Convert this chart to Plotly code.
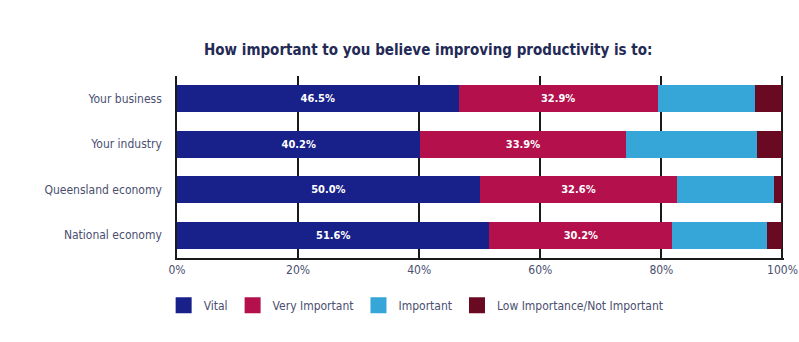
import plotly.graph_objects as go

categories = ["Your business", "Your industry", "Queensland economy", "National economy"]
vital = [46.5, 40.2, 50.0, 51.6]
very_important = [32.9, 33.9, 32.6, 30.2]
important = [16.1, 21.7, 16.0, 15.7]
low_importance = [4.5, 4.2, 1.4, 2.5]
series_names = ["Vital", "Very Important", "Important", "Low Importance/Not Important"]
tick_vals = [0, 20, 40, 60, 80, 100]
tick_text = ["0%", "20%", "40%", "60%", "80%", "100%"]

colors = ["#18208a", "#b3104c", "#36a6d8", "#6a0a22"]
FONT = "Liberation Sans Narrow, DejaVu Sans Condensed, Roboto Condensed, Arial Narrow, sans-serif"

fig = go.Figure()
series = [vital, very_important, important, low_importance]
for i, (name, vals) in enumerate(zip(series_names, series)):
    show_text = i < 2
    fig.add_trace(go.Bar(
        y=categories, x=vals, orientation="h", name=name,
        marker=dict(color=colors[i], line=dict(width=0)),
        text=[f"{v:.1f}%" for v in vals] if show_text else None,
        textposition="inside" if show_text else "none",
        insidetextanchor="middle",
        textfont=dict(family=FONT, size=11, color="white", weight="bold"),
        showlegend=False,
        hoverinfo="x+name",
    ))
for i, name in enumerate(series_names):
    fig.add_trace(go.Scatter(
        x=[None], y=[None], mode="markers", name=name,
        marker=dict(symbol="square", size=17, color=colors[i]),
        showlegend=True,
    ))

fig.update_layout(
    barmode="stack",
    bargap=0.41,
    width=799, height=342,
    margin=dict(l=177, r=15, t=76, b=84),
    paper_bgcolor="white", plot_bgcolor="white",
    title=dict(text="<b>How important to you believe improving productivity is to:</b>",
               x=0.536, xanchor="center", y=1 - 50 / 342, yanchor="middle",
               font=dict(family=FONT, size=15, color="#232a55")),
    legend=dict(orientation="h", x=-0.022, xanchor="left", y=-0.26, yanchor="middle",
                traceorder="normal",
                font=dict(family=FONT, size=12, color="#4a4f70"),
                itemwidth=30, tracegroupgap=0),
    font=dict(family=FONT),
)
fig.update_xaxes(
    range=[0, 100.25], tickvals=tick_vals, ticktext=tick_text,
    showgrid=True, gridcolor="#1a1a1a", gridwidth=1.5,
    showline=True, linecolor="#1a1a1a", linewidth=1.5,
    zeroline=False, mirror=False, automargin=False,
    tickfont=dict(family=FONT, size=12, color="#4a4f70"),
    ticks="", ticklabelstandoff=0, fixedrange=True,
)
fig.update_yaxes(
    autorange="reversed", showgrid=False, zeroline=False,
    showline=True, linecolor="#1a1a1a", linewidth=1.5, automargin=False,
    tickfont=dict(family=FONT, size=12, color="#4a4f70"),
    ticks="", ticklabelstandoff=11, fixedrange=True,
)

fig.write_html("out.html")
